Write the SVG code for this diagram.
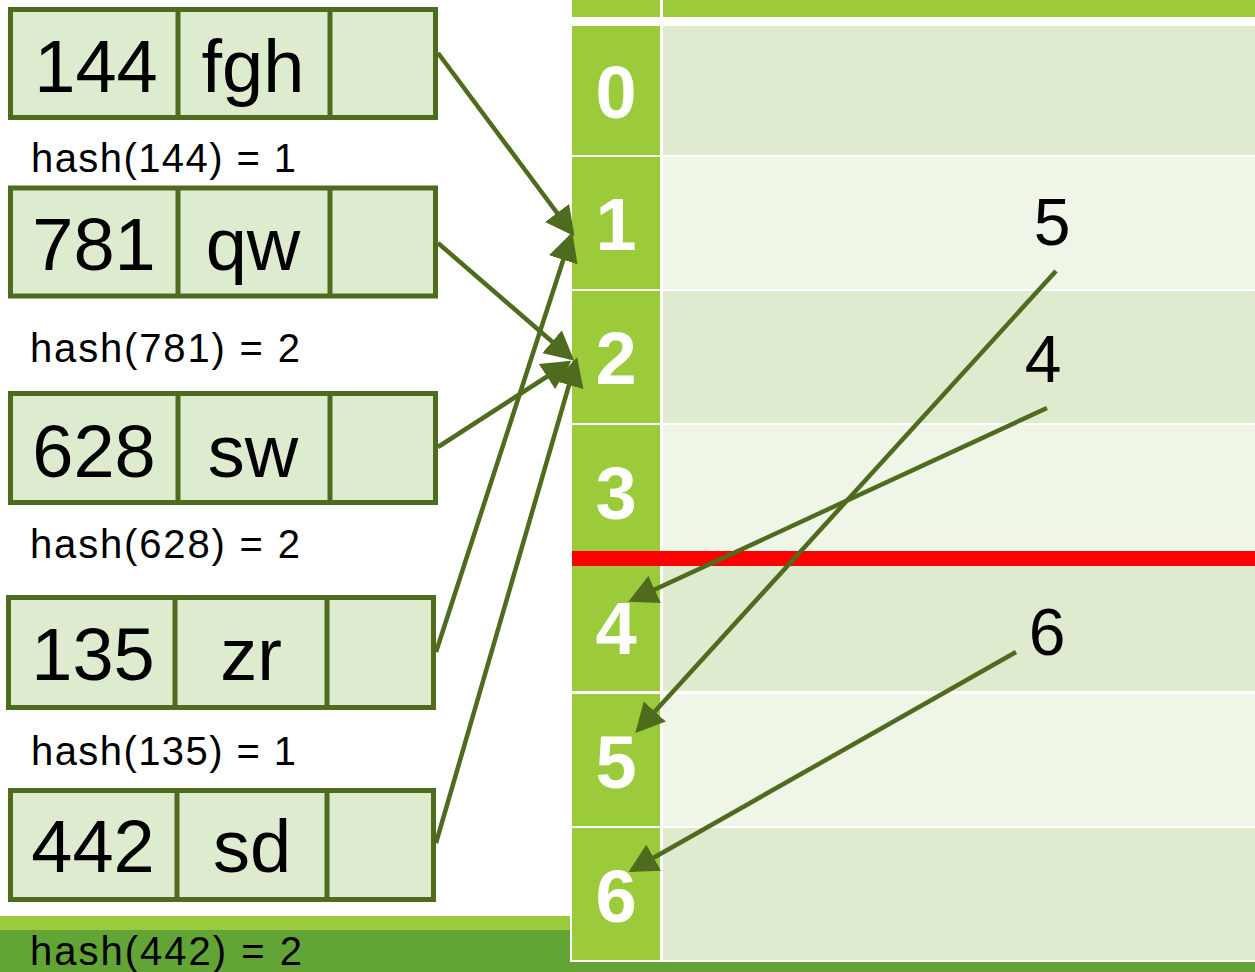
<svg xmlns="http://www.w3.org/2000/svg" width="1255" height="972" viewBox="0 0 1255 972">
  <defs>
    <marker id="head" markerUnits="userSpaceOnUse" markerWidth="30" markerHeight="30" refX="25" refY="15" orient="auto">
      <path d="M0,0 L29,15 L0,30 z" fill="#4E6B1E"/>
    </marker>
    <style>
      .idx { font-family: "Liberation Sans", Arial, sans-serif; font-weight: bold; font-size: 74px; fill: #ffffff; text-anchor: middle; }
      .cell { fill: #DDEBCE; stroke: #4E6B1E; stroke-width: 5; }
      .div { stroke: #4E6B1E; stroke-width: 5; }
      .big { font-family: "Liberation Sans", Arial, sans-serif; font-size: 74px; fill: #000; text-anchor: middle; }
      .lbl { font-family: "Liberation Sans", Arial, sans-serif; font-size: 40px; fill: #000; }
      .num { font-family: "Liberation Sans", Arial, sans-serif; font-size: 66px; fill: #000; text-anchor: middle; }
      .arrow { stroke: #4E6B1E; stroke-width: 4.5; fill: none; marker-end: url(#head); }
      .dark { fill: #DEEBCF; }
      .light { fill: #EFF5E7; }
      .lime { fill: #9BCB3B; }
    </style>
  </defs>

  <rect width="1255" height="972" fill="#ffffff"/>

  <!-- bottom bands -->
  <rect x="0" y="916" width="570" height="14" class="lime"/>
  <rect x="0" y="930" width="570" height="42" fill="#62A536"/>
  <rect x="570" y="962" width="685" height="10" fill="#62A536"/>

  <!-- hash table -->
  <g id="table">
    <rect x="572" y="0" width="88" height="17" class="lime"/>
    <rect x="663" y="0" width="592" height="17" class="lime"/>

    <rect x="572" y="26" width="88" height="129" class="lime"/>
    <rect x="663" y="26" width="592" height="129" class="dark"/>
    <rect x="572" y="157" width="88" height="132" class="lime"/>
    <rect x="663" y="157" width="592" height="132" class="light"/>
    <rect x="572" y="291" width="88" height="132" class="lime"/>
    <rect x="663" y="291" width="592" height="132" class="dark"/>
    <rect x="572" y="425" width="88" height="126" class="lime"/>
    <rect x="663" y="425" width="592" height="126" class="light"/>
    <rect x="572" y="566" width="88" height="125" class="lime"/>
    <rect x="663" y="566" width="592" height="125" class="dark"/>
    <rect x="572" y="694" width="88" height="132" class="lime"/>
    <rect x="663" y="694" width="592" height="132" class="light"/>
    <rect x="572" y="828" width="88" height="132" class="lime"/>
    <rect x="663" y="828" width="592" height="132" class="dark"/>

    <rect x="572" y="551" width="683" height="15" fill="#FF0000"/>

    <text class="idx" x="616" y="118">0</text>
    <text class="idx" x="616" y="250">1</text>
    <text class="idx" x="616" y="384">2</text>
    <text class="idx" x="616" y="519">3</text>
    <text class="idx" x="616" y="654">4</text>
    <text class="idx" x="616" y="788">5</text>
    <text class="idx" x="616" y="922">6</text>
  </g>

  <!-- entries -->
  <g id="entry-144">
    <rect class="cell" x="10.5" y="9.5" width="425" height="108"/>
    <line class="div" x1="178" y1="9.5" x2="178" y2="117.5"/>
    <line class="div" x1="330" y1="9.5" x2="330" y2="117.5"/>
    <text class="big" x="96" y="92">144</text>
    <text class="big" x="253" y="92">fgh</text>
  </g>
  <text class="lbl" x="31" y="172" textLength="265">hash(144) = 1</text>

  <g id="entry-781">
    <rect class="cell" x="10.5" y="188" width="425" height="108"/>
    <line class="div" x1="178" y1="188" x2="178" y2="296"/>
    <line class="div" x1="330" y1="188" x2="330" y2="296"/>
    <text class="big" x="94" y="270">781</text>
    <text class="big" x="253" y="270">qw</text>
  </g>
  <text class="lbl" x="30" y="362" textLength="270">hash(781) = 2</text>

  <g id="entry-628">
    <rect class="cell" x="10.5" y="393.5" width="425" height="109"/>
    <line class="div" x1="178" y1="393.5" x2="178" y2="502.5"/>
    <line class="div" x1="330" y1="393.5" x2="330" y2="502.5"/>
    <text class="big" x="94" y="477">628</text>
    <text class="big" x="253" y="477">sw</text>
  </g>
  <text class="lbl" x="30" y="558" textLength="270">hash(628) = 2</text>

  <g id="entry-135">
    <rect class="cell" x="8.5" y="597.5" width="425" height="110"/>
    <line class="div" x1="175" y1="597.5" x2="175" y2="707.5"/>
    <line class="div" x1="327" y1="597.5" x2="327" y2="707.5"/>
    <text class="big" x="93" y="680">135</text>
    <text class="big" x="251" y="680">zr</text>
  </g>
  <text class="lbl" x="31" y="765" textLength="265">hash(135) = 1</text>

  <g id="entry-442">
    <rect class="cell" x="10.5" y="790.5" width="423" height="109"/>
    <line class="div" x1="177" y1="790.5" x2="177" y2="899.5"/>
    <line class="div" x1="327" y1="790.5" x2="327" y2="899.5"/>
    <text class="big" x="93" y="872">442</text>
    <text class="big" x="252" y="872">sd</text>
  </g>
  <text class="lbl" x="30" y="965" textLength="272">hash(442) = 2</text>

  <!-- incoming keys on the right -->
  <text class="num" x="1052" y="245">5</text>
  <text class="num" x="1043" y="382">4</text>
  <text class="num" x="1047" y="655">6</text>

  <!-- connectors -->
  <g id="connectors">
    <line class="arrow" x1="438" y1="53" x2="572" y2="233"/>
    <line class="arrow" x1="438" y1="243" x2="571" y2="358"/>
    <line class="arrow" x1="438" y1="447" x2="568" y2="363"/>
    <line class="arrow" x1="436" y1="652" x2="571" y2="236"/>
    <line class="arrow" x1="436" y1="843" x2="576" y2="361"/>
    <line class="arrow" x1="1056" y1="271" x2="638" y2="730"/>
    <line class="arrow" x1="1047" y1="408" x2="632" y2="600"/>
    <line class="arrow" x1="1016" y1="652" x2="632" y2="870"/>
  </g>
</svg>
